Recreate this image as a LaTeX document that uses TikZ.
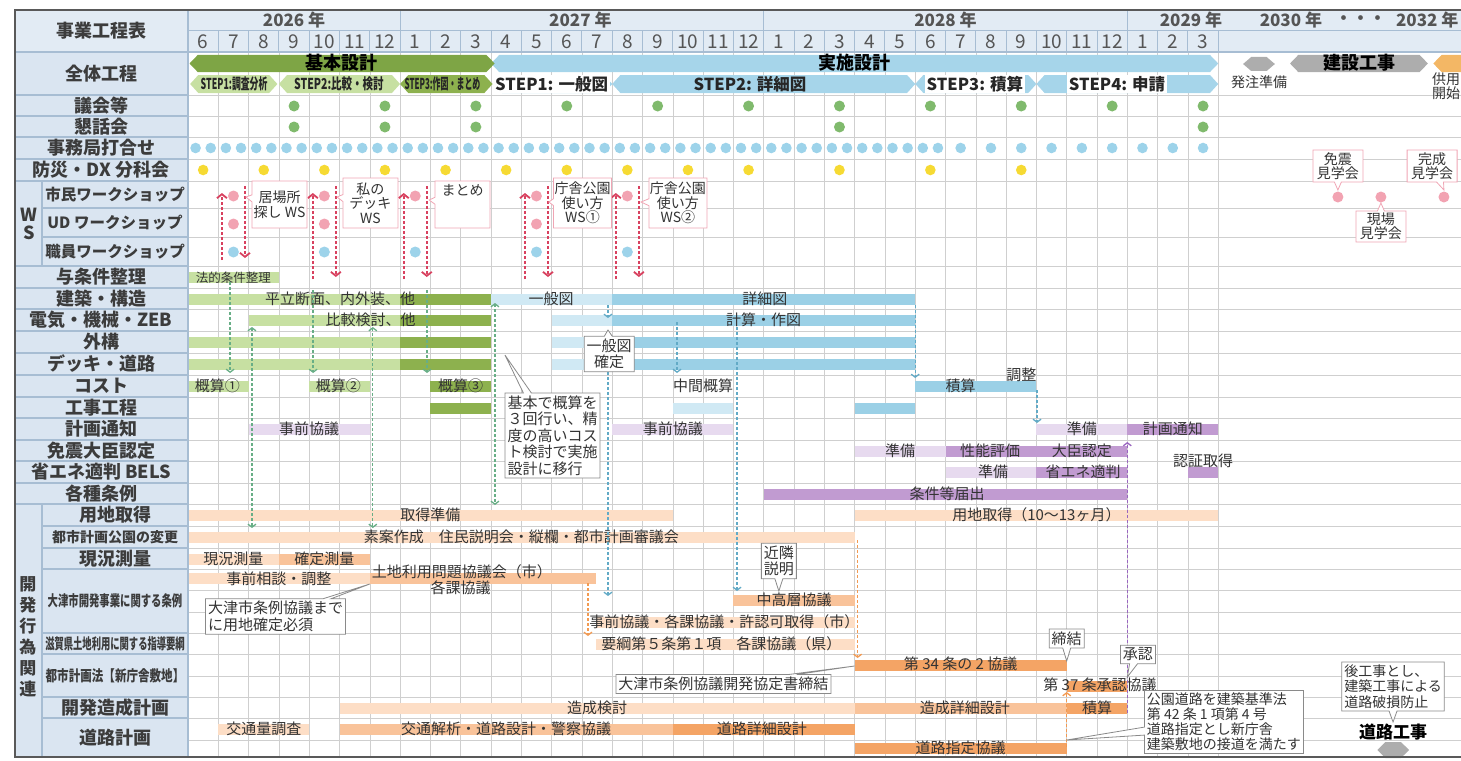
\documentclass[tikz,border=0pt]{standalone}
\usepackage{fontspec}
\usepackage{graphicx}
\setmainfont{Noto Sans CJK JP}
\usetikzlibrary{shapes.callouts, arrows.meta, positioning}

\definecolor{hdr}{HTML}{E2EBF4}
\definecolor{labc}{HTML}{DAE5F1}
\definecolor{lline}{HTML}{A7BDD3}
\definecolor{gridc}{HTML}{CFCFCF}
\definecolor{labtx}{HTML}{3C3C3C}
\definecolor{hdtx}{HTML}{555555}
\definecolor{txt}{HTML}{333333}
\definecolor{kbg}{HTML}{7EA545}
\definecolor{lg}{HTML}{C7E0A2}
\definecolor{dg}{HTML}{8DB14E}
\definecolor{jsb}{HTML}{A6D5EA}
\definecolor{pb}{HTML}{D0E9F4}
\definecolor{bl}{HTML}{9BD0E6}
\definecolor{pp}{HTML}{E7DAEF}
\definecolor{pu}{HTML}{C19BD1}
\definecolor{po}{HTML}{FDDEC6}
\definecolor{mo}{HTML}{F9C39A}
\definecolor{so}{HTML}{F4A465}
\definecolor{gdot}{HTML}{80BA6D}
\definecolor{bdot}{HTML}{9DD3EA}
\definecolor{ydot}{HTML}{F6DA33}
\definecolor{pdot}{HTML}{F2A3B2}
\definecolor{wsred}{HTML}{D8415F}
\definecolor{pinkb}{HTML}{F0A5B4}
\definecolor{cgray}{HTML}{8A8A8A}
\definecolor{kgray}{HTML}{ADADAD}
\definecolor{kora}{HTML}{F3B765}
\definecolor{gda}{HTML}{68AE86}
\definecolor{bda}{HTML}{62AAC6}
\definecolor{oda}{HTML}{F29A52}
\definecolor{pda}{HTML}{9A66C0}

\tikzset{chev/.tip={Straight Barb[length=3pt,width=8pt]}}
\newcommand\bx[4]{\fill[fill=#1] (#2,#4-5.5) rectangle (#3,#4+5.5);}
\newcommand\hexbar[5]{\fill[fill=#1] (#2,{(#4+#5)/2}) -- (#2+0.27,#4) -- (#3-0.27,#4) -- (#3,{(#4+#5)/2}) -- (#3-0.27,#5) -- (#2+0.27,#5) -- cycle;}

\begin{document}
\begin{tikzpicture}[x=1pt, y=-1pt, thick,
    lab/.style={font=\bfseries\fontsize{18}{18}\selectfont, text=labtx, inner sep=0pt},
    sub/.style={font=\bfseries\fontsize{15.5}{16}\selectfont, text=labtx, inner sep=0pt},
    mon/.style={font=\fontsize{19}{19}\selectfont, text=hdtx, inner sep=0pt},
    yr/.style={font=\bfseries\fontsize{17}{17}\selectfont, text=hdtx, inner sep=0pt},
    bt/.style={font=\bfseries\fontsize{18}{18}\selectfont, text=black, inner sep=0pt},
    st/.style={font=\bfseries\fontsize{16.5}{16.5}\selectfont, text=black!85, inner sep=1.5pt},
    sst/.style={font=\bfseries\fontsize{15}{15}\selectfont, text=black!85, inner sep=0pt},
    tx/.style={font=\fontsize{15}{15}\selectfont, text=txt, inner sep=0pt},
    gridln/.style={draw=gridc, line width=0.6pt},
    hdl/.style={draw=lline, line width=1pt},
    lsep/.style={draw=lline, line width=1.2pt},
    garr/.style={draw=gda, line width=1.3pt, dash pattern=on 3pt off 2pt},
    barr/.style={draw=bda, line width=1.3pt, dash pattern=on 3pt off 2pt},
    oarr/.style={draw=oda, line width=1.3pt, dash pattern=on 3pt off 2pt},
    parr/.style={draw=pda, line width=1.3pt, dash pattern=on 3pt off 2pt},
    wsarr/.style={draw=wsred, line width=1.8pt, dash pattern=on 3pt off 2pt, -{Straight Barb[length=4pt,width=10pt]}},
    gcall/.style={rectangle callout, draw=cgray, fill=white, line width=0.8pt, text=txt,
                  font=\fontsize{15}{16.5}\selectfont, align=left, inner sep=2.5pt, callout pointer width=8pt},
    pcall/.style={rectangle callout, draw=pinkb, fill=white, line width=0.8pt, text=txt,
                  font=\fontsize{14}{14.5}\selectfont, align=center, inner sep=1pt, callout pointer width=7pt}]

    \useasboundingbox (0,0) rectangle (1461,760);
    \fill[fill=hdr] (15,10) rectangle (1475,52);
    \fill[fill=labc] (15,52) rectangle (188,757);
    \foreach \y in {95,116,137,159,181,208,237,266,288,309,331,353,375,397,418,440,461,483,504,526,548,569,590,612,633,654,676,697,718,740}
        \draw[gridln] (188,\y) -- (1475,\y);

    \begin{scope}[shift={(188pt,0pt)}, x=30.3pt]
        \foreach \i in {1,...,34} \draw[gridln] (\i,52) -- (\i,757);
        \foreach \i in {0,...,34} \draw[hdl] (\i,31) -- (\i,52);
        \foreach \i in {7,19,31} \draw[hdl] (\i,10) -- (\i,31);
        \draw[hdl] (0,31) -- (42,31);

        \foreach \m [count=\i from 0] in {6,7,8,9,10,11,12,1,2,3,4,5,6,7,8,9,10,11,12,1,2,3,4,5,6,7,8,9,10,11,12,1,2,3}
            \node[mon] (m\i) at (\i+0.5,42) {\m};
        \node[yr] (y26) at (3.5,20) {2026 年};
        \node[yr] (y27) at (12.95,20) {2027 年};
        \node[yr] (y28) at (25,20) {2028 年};
        \node[yr] (y29) at (33.1,20) {2029 年};
        \node[yr] (y30) at (36.4,20) {2030 年};
        \node[yr] (ydots) at (38.7,20) {・・・};
        \node[yr] (y32) at (40.9,20) {2032 年};

        \hexbar{jsb}{10}{34}{55}{72}
        \hexbar{kbg}{0.05}{10.12}{55}{72}
        \node[bt] (kihon) at (5.05,63) {基本設計};
        \node[bt] (jisshi) at (21.98,63) {実施設計};
        \hexbar{lg}{0.07}{2.95}{75}{93}
        \hexbar{lg}{3.0}{7.0}{75}{93}
        \hexbar{dg}{7.0}{10.05}{75}{93}
        \hexbar{jsb}{10.1}{14.0}{75}{93}
        \hexbar{jsb}{14.0}{24.0}{75}{93}
        \hexbar{jsb}{24.0}{28.0}{75}{93}
        \hexbar{jsb}{28.0}{34.0}{75}{93}
        \node[sst] (ks1) at (1.52,84) {\scalebox{0.59}[1]{STEP1:調査分析}};
        \node[sst] (ks2) at (4.98,84) {\scalebox{0.7}[1]{STEP2:比較・検討}};
        \node[sst] (ks3) at (8.4,84) {\scalebox{0.53}[1]{STEP3:作図・まとめ}};
        \node[st, fill=white] (js1) at (12.0,84) {STEP1: 一般図};
        \node[st] (js2) at (18.55,84) {STEP2: 詳細図};
        \node[st, fill=white] (js3) at (25.97,84) {STEP3: 積算};
        \node[st, fill=white] (js4) at (30.66,84) {STEP4: 申請};

        \hexbar{kgray}{34.82}{35.87}{57}{71}
        \hexbar{kgray}{36.37}{40.92}{55}{72}
        \hexbar{kora}{41.1}{43}{55}{72}
        \node[bt] (kensetsu) at (38.65,63) {建設工事};
        \node[tx, font=\fontsize{14}{14}\selectfont] (hacchu) at (35.35,82) {発注準備};
        \node[tx, font=\fontsize{14}{14.5}\selectfont, align=left, anchor=north west] (kyoyo) at (41.05,72) {供用\\開始};

        \foreach \k in {3,6,...,33} \fill[fill=gdot] (\k+0.5,106) circle (5.5pt);
        \foreach \k in {3,6,9,21,33} \fill[fill=gdot] (\k+0.5,127) circle (5.5pt);
        \foreach \k in {0,...,24} {
            \fill[fill=bdot] (\k+0.25,148) circle (5.3pt);
            \fill[fill=bdot] (\k+0.75,148) circle (5.3pt);}
        \foreach \k in {25,...,33} \fill[fill=bdot] (\k+0.5,148) circle (5.3pt);
        \foreach \k in {0,2,...,18,21,24,27} \fill[fill=ydot] (\k+0.5,170) circle (5.3pt);
        \foreach \k in {1,4,7,11,14} \fill[fill=pdot] (\k+0.5,196) circle (5.5pt);
        \foreach \k in {1,4,11} \fill[fill=pdot] (\k+0.5,224) circle (5.5pt);
        \foreach \k in {1,4,7,11,14} \fill[fill=bdot] (\k+0.5,252) circle (5.5pt);
        \foreach \x in {37.95,39.37,41.45} \fill[fill=pdot] (\x,197) circle (5.5pt);

        \foreach \c/\a/\b/\y in {lg/0/3/277,
            lg/0/7/299, dg/7/10/299, pb/10/14/299, bl/14/24/299,
            lg/2/7/320, dg/7/10/320, pb/12/14/320, bl/14/24/320,
            lg/0/7/342, dg/7/10/342, pb/12/14/342, bl/14/24/342,
            lg/0/7/364, dg/7/10/364, pb/12/14/364, bl/14/24/364,
            lg/0/2/386, lg/4/6/386, dg/8/10/386, bl/24/28/386,
            dg/8/10/408, pb/16/18/408, bl/22/24/408,
            pp/2/6/429, pp/14/18/429, pp/28/31/429, pu/31/34/429,
            pp/22/25/451, pu/25/31/451,
            pp/25/28/472, pu/28/31/472, pu/33/34/472,
            pu/19/31/494,
            po/0/16/515, po/22/34/515,
            po/0/22/537,
            po/0/3/559, mo/3/6/559,
            po/0/6/578, mo/6/13.45/578,
            mo/18/22/600,
            po/13.45/22/622,
            po/13.45/22/644,
            so/22/29/665, so/29/31/686,
            po/5/22/708, mo/22/29/708, so/29/31/708,
            po/1/4/729, mo/5/16/729, so/16/22/729,
            so/22/29/748}
            \bx{\c}{\a}{\b}{\y};

        \node[tx, font=\fontsize{12.5}{12.5}\selectfont] (hou) at (1.5,278) {法的条件整理};
        \foreach \x/\y/\t [count=\i] in {5.02/299/平立断面、内外装、他, 11.98/299/一般図, 19.04/299/詳細図,
            6.03/320/比較検討、他, 19.0/320/計算・作図,
            0.97/386/概算①, 4.96/386/概算②, 9.0/386/概算③, 17.0/386/中間概算, 25.5/386/積算, 27.5/375/調整,
            4.0/429/事前協議, 16.0/429/事前協議, 29.5/429/準備, 32.5/429/計画通知,
            23.5/451/準備, 26.47/451/性能評価, 29.5/451/大臣認定,
            26.57/472/準備, 29.54/472/省エネ適判, 33.5/461/認証取得,
            25.05/494/条件等届出,
            8.0/515/取得準備, 28.0/515/用地取得（10～13ヶ月）,
            11.0/537/素案作成　住民説明会・縦欄・都市計画審議会,
            1.5/559/現況測量, 4.5/559/確定測量,
            3.0/579/事前相談・調整, 9.04/572/土地利用問題協議会（市）, 9.0/588/各課協議,
            20.0/600/中高層協議,
            17.7/622/事前協議・各課協議・許認可取得（市）,
            17.6/644/要綱第５条第１項　各課協議（県）,
            25.5/664/第 34 条の 2 協議, 30.1/685/第 37 条承認協議,
            13.5/708/造成検討, 25.64/708/造成詳細設計, 30.0/708/積算,
            2.5/729/交通量調査, 10.5/729/交通解析・道路設計・警察協議, 18.94/729/道路詳細設計,
            25.5/748/道路指定協議}
            \node[tx] (bt\i) at (\x,\y) {\t};

        \foreach \k/\b [count=\i] in {1/260,4/279,7/279,11/279,14/279} {
            \coordinate (wu\i) at (\k+0.12,\b);
            \coordinate (wt\i) at (\k+0.12,193);
            \coordinate (ws\i) at (\k+0.88,186);
            \coordinate (we\i) at (\k+0.88,\b-2);
            \draw[wsarr] (wu\i) -- (wt\i);
            \draw[wsarr] (ws\i) -- (we\i);}
        \foreach \x/\a/\b [count=\i] in {1.39/282/373, 4.13/290/373, 7.89/290/373} {
            \coordinate (ga\i) at (\x,\a); \coordinate (gb\i) at (\x,\b);
            \draw[garr, -chev] (ga\i) -- (gb\i);}
        \foreach \x/\a/\b [count=\i] in {2.11/327/528, 6.1/327/528, 10.13/303/505} {
            \coordinate (gu\i) at (\x,\a); \coordinate (gv\i) at (\x,\b);
            \draw[garr, chev-chev] (gu\i) -- (gv\i);}
        \foreach \x/\a/\b [count=\i] in {13.86/305/318, 13.86/372/596, 16.14/322/373, 18.12/327/591, 24.0/305/378, 28.02/390/423} {
            \coordinate (ba\i) at (\x,\a); \coordinate (bb\i) at (\x,\b);
            \draw[barr, -chev] (ba\i) -- (bb\i);}
        \foreach \x/\a/\b [count=\i] in {13.2/583/636, 22.1/540/658, 29.0/747/692} {
            \coordinate (oa\i) at (\x,\a); \coordinate (ob\i) at (\x,\b);
            \draw[oarr, -chev] (oa\i) -- (ob\i);}
        \coordinate (pa) at (31.0,713);
        \coordinate (pb) at (31.0,442);
        \draw[parr, -chev] (pa) -- (pb);

        \coordinate (pk1) at (1.91,197);
        \coordinate (pk2) at (4.92,197);
        \coordinate (pk3) at (7.96,200);
        \coordinate (pk4) at (11.91,202);
        \coordinate (pk5) at (14.95,202);
        \coordinate (pk6) at (37.95,190);
        \coordinate (pk7) at (41.45,190);
        \coordinate (pk8) at (39.37,203);
        \node[pcall, callout absolute pointer={(pk1)}, minimum width=55pt, minimum height=47pt] (ws1) at (3.02,204.5) {居場所\\探し WS};
        \node[pcall, callout absolute pointer={(pk2)}, minimum width=55pt, minimum height=50pt] (ws2) at (6.02,203) {私の\\デッキ\\WS};
        \node[pcall, callout absolute pointer={(pk3)}, minimum width=55pt, minimum height=47pt] (ws3) at (9.06,204.5) {まとめ\\\phantom{あ}\\\phantom{あ}};
        \node[pcall, callout absolute pointer={(pk4)}, minimum width=55pt, minimum height=50pt] (ws4) at (13.02,203) {庁舎公園\\使い方\\WS①};
        \node[pcall, callout absolute pointer={(pk5)}, minimum width=55pt, minimum height=50pt] (ws5) at (16.17,203) {庁舎公園\\使い方\\WS②};
        \node[pcall, callout absolute pointer={(pk6)}, minimum width=50pt, minimum height=32pt] (ken1) at (37.95,166) {免震\\見学会};
        \node[pcall, callout absolute pointer={(pk7)}, minimum width=50pt, minimum height=32pt] (ken2) at (41.06,166) {完成\\見学会};
        \node[pcall, callout absolute pointer={(pk8)}, minimum width=50pt, minimum height=31pt] (ken3) at (39.37,226.5) {現場\\見学会};

        \coordinate (gk1) at (10.46,355);
        \coordinate (gk2) at (13.86,330);
        \coordinate (gk3) at (19.5,591);
        \coordinate (gk4) at (6.0,584);
        \coordinate (gk5) at (22.0,666);
        \coordinate (gk6) at (29.0,661);
        \coordinate (gk7) at (31.0,677);
        \coordinate (gk8) at (29.0,740);
        \coordinate (gk9) at (39.77,722);
        \node[gcall, callout absolute pointer={(gk1)}] (note1) at (12.03,435.5) {基本で概算を\\３回行い、精\\度の高いコス\\ト検討で実施\\設計に移行};
        \node[gcall, callout absolute pointer={(gk2)}, align=center] (note2) at (13.9,354) {一般図\\確定};
        \node[gcall, callout absolute pointer={(gk3)}, align=center] (note3) at (19.5,561) {近隣\\説明};
        \node[gcall, callout absolute pointer={(gk4)}] (note4) at (2.89,616.5) {大津市条例協議まで\\に用地確定必須};
        \node[gcall, callout absolute pointer={(gk5)}] (note5) at (17.67,684) {大津市条例協議開発協定書締結};
        \node[gcall, callout absolute pointer={(gk6)}] (note6) at (29.0,638.5) {締結};
        \node[gcall, callout absolute pointer={(gk7)}] (note7) at (31.35,654.5) {承認};
        \node[gcall, callout absolute pointer={(gk8)}, font=\fontsize{14}{15}\selectfont] (note8) at (34.19,722) {公園道路を建築基準法\\第 42 条 1 項第 4 号\\道路指定とし新庁舎\\建築敷地の接道を満たす};
        \node[gcall, callout absolute pointer={(gk9)}, font=\fontsize{14}{15.5}\selectfont] (note9) at (39.77,686.5) {後工事とし、\\建築工事による\\道路破損防止};
        \node[bt, font=\bfseries\fontsize{17}{17}\selectfont] (doro) at (39.77,732) {道路工事};
        \hexbar{kgray}{39.25}{40.3}{742}{758}
    \end{scope}

    \foreach \y in {95,116,137,159,181,266,288,309,331,353,375,397,418,440,461,483,504}
        \draw[lsep] (15,\y) -- (188,\y);
    \foreach \y in {208,237,526,548,569,633,654,697,718}
        \draw[lsep] (42,\y) -- (188,\y);
    \draw[lsep] (42,181) -- (42,266);
    \draw[lsep] (42,504) -- (42,757);
    \draw[lsep] (15,52) -- (1475,52);
    \draw[lsep] (188,10) -- (188,757);

    \node[lab] (hd) at (101,31) {事業工程表};
    \foreach \t/\y [count=\i] in {全体工程/74, 議会等/106, 懇話会/127, 事務局打合せ/148, 防災・DX 分科会/170,
        与条件整理/277, 建築・構造/299, 電気・機械・ZEB/320, 外構/342, デッキ・道路/364, コスト/386,
        工事工程/408, 計画通知/429, 免震大臣認定/451, 省エネ適判 BELS/472, 各種条例/494}
        \node[lab] (r\i) at (101,\y) {\t};
    \node[lab, align=center] (wsl) at (29,224) {W\\S};
    \foreach \t/\y [count=\i] in {市民ワークショップ/195, UD ワークショップ/223, 職員ワークショップ/252}
        \node[sub] (w\i) at (115,\y) {\t};
    \foreach \t/\y [count=\i] in {用地取得/515, 現況測量/559, 開発造成計画/708, 道路計画/738}
        \node[lab] (k\i) at (115,\y) {\t};
    \node[sub, font=\bfseries\fontsize{14}{14}\selectfont] (koen) at (115,537) {都市計画公園の変更};
    \node[sub, font=\bfseries\fontsize{15}{15}\selectfont] (otsu) at (115,601) {\scalebox{0.69}[1]{大津市開発事業に関する条例}};
    \node[sub, font=\bfseries\fontsize{15}{15}\selectfont] (shiga) at (115,644) {\scalebox{0.62}[1]{滋賀県土地利用に関する指導要綱}};
    \node[sub, font=\bfseries\fontsize{15}{15}\selectfont] (toshi) at (115,676) {\scalebox{0.77}[1]{都市計画法【新庁舎敷地】}};
    \node[lab, align=center, font=\bfseries\fontsize{17}{21}\selectfont] (kaihatsu) at (28,637) {開\\発\\行\\為\\関\\連};

    \draw[draw=gray!70!black, line width=1.5pt] (15,10) rectangle (1475,757);
\end{tikzpicture}
\end{document}
